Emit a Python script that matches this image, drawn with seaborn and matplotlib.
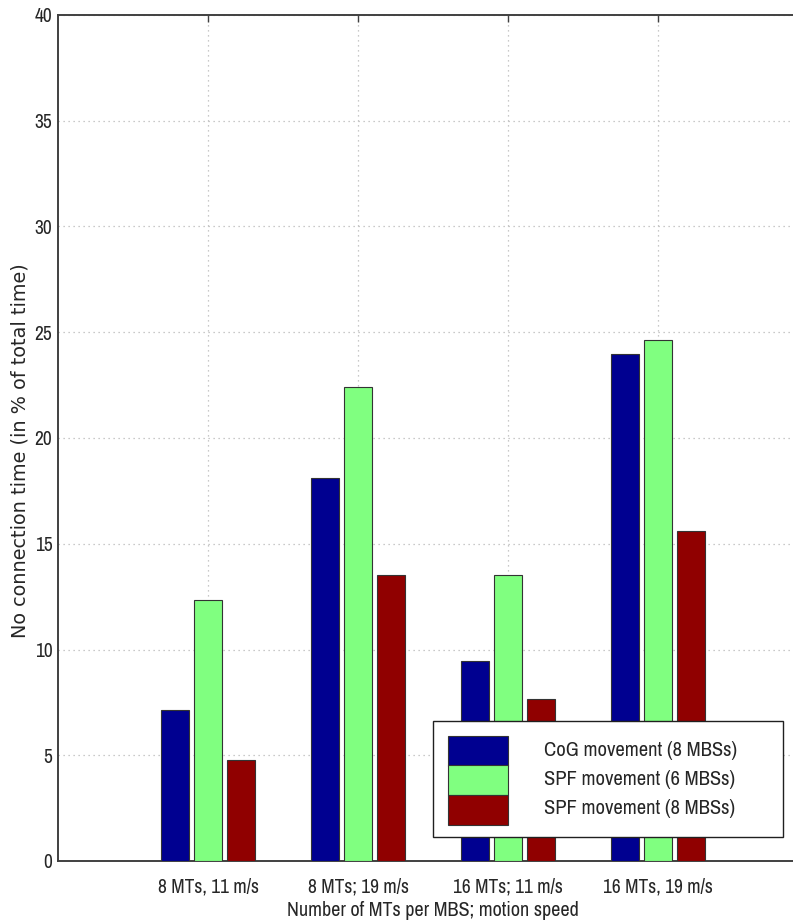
import matplotlib
matplotlib.use("Agg")
import matplotlib.pyplot as plt
from matplotlib import font_manager
from matplotlib.patches import Patch, Rectangle
from matplotlib.legend_handler import HandlerPatch
import seaborn as sns
import pandas as pd

categories = ["8 MTs, 11 m/s", "8 MTs; 19 m/s", "16 MTs; 11 m/s", "16 MTs, 19 m/s"]
series_names = ["CoG movement (8 MBSs)", "SPF movement (6 MBSs)", "SPF movement (8 MBSs)"]
cog_8 = [7.16, 18.09, 9.45, 23.97]
spf_6 = [12.35, 22.39, 13.53, 24.65]
spf_8 = [4.76, 13.51, 7.65, 15.6]
colors = ["#000090", "#80FF80", "#900000"]
yticks = [0, 5, 10, 15, 20, 25, 30, 35, 40]

sns.set_style("white")
names = {f.name for f in font_manager.fontManager.ttflist}
narrow = [n for n in names if "Narrow" in n or "Condensed" in n]
font = (sorted(narrow) if narrow else []) + ["Liberation Sans", "DejaVu Sans"]
plt.rcParams["font.family"] = font
has_narrow = bool(narrow)
fs_tick = 14 if has_narrow else 12.5
fs_leg = 14.8 if has_narrow else 13
fs_lab = 14.5 if has_narrow else 12.5

rows = []
for name, vals in zip(series_names, [cog_8, spf_6, spf_8]):
    for c, v in zip(categories, vals):
        rows.append({"cat": c, "series": name, "value": v})
df = pd.DataFrame(rows)

W, H = 793, 923
fig = plt.figure(figsize=(W / 100, H / 100), dpi=100)
ax = fig.add_axes([58 / W, (H - 861) / H, 750 / W, (861 - 15) / H])

sns.barplot(data=df, x="cat", y="value", hue="series", order=categories,
            hue_order=series_names, palette=colors, width=0.66, gap=0.18,
            edgecolor="#333333", linewidth=0.8, saturation=1, ax=ax,
            errorbar=None, zorder=3, legend=False)

ax.set_xlim(-1, 4)
ax.set_ylim(0, 40)
ax.set_yticks(yticks)
ax.set_yticklabels([str(t) for t in yticks])
ax.grid(True, linestyle=(0, (1, 3)), color="#b8b8b8", linewidth=0.9, zorder=0)
ax.set_axisbelow(True)
for s in ax.spines.values():
    s.set_color("#404040")
    s.set_linewidth(1.4)
ax.tick_params(axis="both", direction="in", length=5, width=1.0, color="#404040",
               labelsize=fs_tick, top=True, right=True)
ax.tick_params(axis="x", pad=12)
ax.tick_params(axis="y", pad=4)
ax.set_xlabel("Number of MTs per MBS; motion speed", fontsize=fs_lab)
ax.set_ylabel("No connection time (in % of total time)", fontsize=13.9,
              family=["DejaVu Sans"])
ax.xaxis.set_label_coords(0.5, -(911 - 861) / 846, transform=ax.transAxes)
ax.yaxis.set_label_coords((20 - 58) / 750, (861 - 451) / 846, transform=ax.transAxes)
ax.xaxis.label.set_va("center")
ax.yaxis.label.set_va("center")

PT = 0.72  # points per pixel at dpi 100


def make_patch(legend, orig_handle, xdescent, ydescent, width, height, fontsize):
    h = 30 * PT
    cy = -ydescent + height / 2.0
    return Rectangle((-xdescent - 5 * PT, cy - h / 2.0 - 3 * PT), width, h)


fs_px = fs_leg / PT
handles = [Patch(facecolor=c, edgecolor="#333333", linewidth=0.8) for c in colors]
ax.legend(handles, series_names, loc="upper left",
          bbox_to_anchor=(433 / W, (H - 722) / H, 350 / W, 0.001),
          bbox_transform=fig.transFigure, mode="expand", borderaxespad=0,
          fontsize=fs_leg, frameon=True, fancybox=False, shadow=False,
          edgecolor="#202020", framealpha=1,
          handler_map={Patch: HandlerPatch(patch_func=make_patch)},
          handlelength=60 / fs_px, handleheight=0.7,
          handletextpad=32 / fs_px, labelspacing=0.49,
          borderpad=19.5 / fs_px)
leg = ax.get_legend()
leg.get_frame().set_linewidth(1.0)

fig.savefig("out.png", dpi=100)
